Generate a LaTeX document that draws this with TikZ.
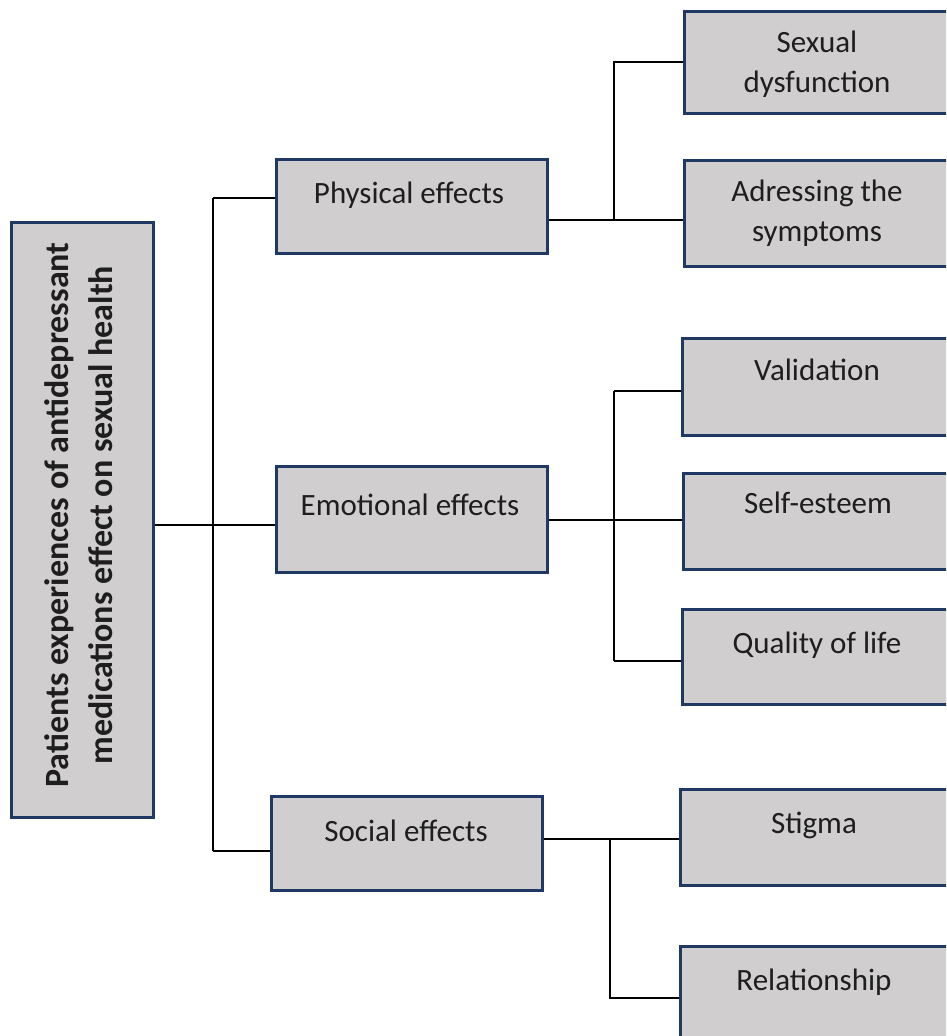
\documentclass[tikz,border=0pt]{standalone}
\usepackage{fontspec}
\setmainfont{Carlito}
\definecolor{boxfill}{HTML}{D0CECE}
\definecolor{boxline}{HTML}{1F3864}
\definecolor{txt}{HTML}{1E1E1E}
\begin{document}
\begin{tikzpicture}[x=1pt,y=-1pt,
  box/.style={draw=boxline, fill=boxfill, line width=2.6pt, inner sep=0pt, anchor=north west, rectangle},
  lbl/.style={font=\fontsize{31}{40}\selectfont, align=center, text=txt, inner sep=0pt},
  rootlbl/.style={font=\bfseries\fontsize{34}{44}\selectfont, align=center, text=txt, inner sep=0pt, rotate=90},
  conn/.style={draw=black, line width=2.9pt}]
\useasboundingbox (0,0) rectangle (946,1036);
\clip (0,0) rectangle (946,1036);
% boxes
\node[box, minimum width=142pt, minimum height=595pt] (root) at (10,221) {};
\node[box, minimum width=271pt, minimum height=94pt] (phys) at (275,158) {};
\node[box, minimum width=271pt, minimum height=106pt] (emo) at (275,465) {};
\node[box, minimum width=271pt, minimum height=94pt] (soc) at (270,795) {};
\node[box, minimum width=268pt, minimum height=102pt] (sex) at (683,10) {};
\node[box, minimum width=268pt, minimum height=106pt] (adr) at (683,159) {};
\node[box, minimum width=268pt, minimum height=97pt] (val) at (681,337) {};
\node[box, minimum width=268pt, minimum height=96pt] (selfe) at (682,472) {};
\node[box, minimum width=268pt, minimum height=95pt] (qol) at (681,608) {};
\node[box, minimum width=270pt, minimum height=96pt] (stig) at (679,788) {};
\node[box, minimum width=270pt, minimum height=120pt] (rel) at (679,945) {};
% texts
\node[rootlbl] (roott) at (79,515) {Patients experiences of antidepressant\\medications effect on sexual health};
\node[lbl, anchor=base] (physt) at (409,203) {Physical effects};
\node[lbl, anchor=base] (emot) at (410,515) {Emotional effects};
\node[lbl, anchor=base] (soct) at (406,841) {Social effects};
\node[lbl] (sext) at (817,64.5) {Sexual\\dysfunction};
\node[lbl] (adrt) at (817,213) {Adressing the\\symptoms};
\node[lbl, anchor=base] (valt) at (817,380) {Validation};
\node[lbl, anchor=base] (selft) at (818,513) {Self-esteem};
\node[lbl, anchor=base] (qolt) at (817,653) {Quality of life};
\node[lbl, anchor=base] (stigt) at (814,833) {Stigma};
\node[lbl, anchor=base] (relt) at (814,990) {Relationship};
% junction coordinates
\coordinate (j0) at (213,525);
\coordinate (j1) at (614,220);
\coordinate (j2) at (614,520);
\coordinate (j3) at (610,839);
% root connectors
\draw[conn] (root.east |- j0) -- (emo.west |- j0);
\draw[conn] (j0 |- 0,198) -- (j0 |- 0,851);
\draw[conn] (j0 |- 0,198) -- (phys.west |- 0,198);
\draw[conn] (j0 |- 0,851) -- (soc.west |- 0,851);
% physical
\draw[conn] (phys.east |- j1) -- (adr.west |- j1);
\draw[conn] (j1) -- (j1 |- 0,62) -- (sex.west |- 0,62);
% emotional
\draw[conn] (emo.east |- j2) -- (selfe.west |- j2);
\draw[conn] (j2 |- 0,391) -- (j2 |- 0,661);
\draw[conn] (j2 |- 0,391) -- (val.west |- 0,391);
\draw[conn] (j2 |- 0,661) -- (qol.west |- 0,661);
% social
\draw[conn] (soc.east |- j3) -- (stig.west |- j3);
\draw[conn] (j3) -- (j3 |- 0,998) -- (rel.west |- 0,998);
\end{tikzpicture}
\end{document}
